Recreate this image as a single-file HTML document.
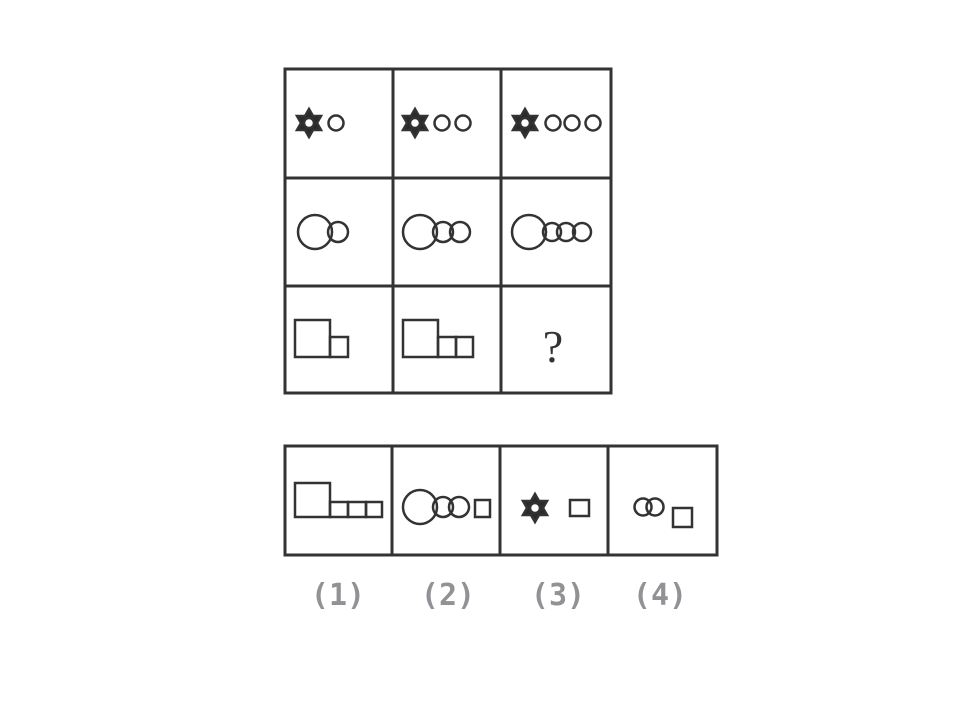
<!DOCTYPE html>
<html><head><meta charset="utf-8"><style>
html,body{margin:0;padding:0;background:#fff;}
svg{display:block;}
</style></head><body>
<svg width="960" height="720" viewBox="0 0 960 720">
<defs>
<g id="star">
<polygon points="0,-14 4,-7 12,-7 8,0 12,7 4,7 0,14 -4,7 -12,7 -8,0 -12,-7 -4,-7" fill="#2a2a2a"/>
<circle r="5" fill="#fff"/>
</g>
</defs>
<g fill="none" stroke="#333" stroke-width="3">
<rect x="285" y="69" width="326" height="324"/>
<line x1="393" y1="69" x2="393" y2="393"/><line x1="501" y1="69" x2="501" y2="393"/>
<line x1="285" y1="178" x2="611" y2="178"/><line x1="285" y1="286" x2="611" y2="286"/>
</g>
<g fill="none" stroke="#333" stroke-width="2.5">
<use href="#star" x="309" y="123"/><circle cx="336" cy="123" r="7.5"/>
<use href="#star" x="415" y="123"/><circle cx="442" cy="123" r="7.5"/><circle cx="463" cy="123" r="7.5"/>
<use href="#star" x="525" y="123"/><circle cx="553" cy="123" r="7.5"/><circle cx="572" cy="123" r="7.5"/><circle cx="593" cy="123" r="7.5"/>
</g>
<g fill="none" stroke="#333" stroke-width="2.5">
<circle cx="315" cy="232" r="17"/><circle cx="338" cy="232" r="10"/>
<circle cx="420" cy="232" r="17"/><circle cx="443" cy="232" r="10"/><circle cx="460" cy="232" r="10"/>
<circle cx="529" cy="232" r="17"/><circle cx="552" cy="232" r="9"/><circle cx="566" cy="232" r="9"/><circle cx="582" cy="232" r="9"/>
</g>
<g fill="none" stroke="#333" stroke-width="2.5">
<rect x="295" y="320" width="35" height="37"/><rect x="330" y="337" width="18" height="20"/>
<rect x="403" y="320" width="35" height="37"/><rect x="438" y="337" width="18" height="20"/><rect x="456" y="337" width="17" height="20"/>
</g>
<text x="553" y="362" font-family="Liberation Serif, serif" font-size="46" fill="#333" text-anchor="middle">?</text>
<g fill="none" stroke="#333" stroke-width="3">
<rect x="285" y="446" width="432" height="109"/>
<line x1="392" y1="446" x2="392" y2="555"/><line x1="500" y1="446" x2="500" y2="555"/><line x1="608" y1="446" x2="608" y2="555"/>
</g>
<g fill="none" stroke="#333" stroke-width="2.5">
<rect x="295" y="483" width="35" height="34"/><rect x="330" y="502" width="18" height="15"/><rect x="348" y="502" width="18" height="15"/><rect x="366" y="502" width="16" height="15"/>
</g>
<g fill="none" stroke="#333" stroke-width="2.5">
<circle cx="420" cy="507" r="17"/><circle cx="443" cy="507" r="10"/><circle cx="459" cy="507" r="10"/><rect x="475" y="500" width="15" height="17"/>
</g>
<g fill="none" stroke="#333" stroke-width="2.5">
<use href="#star" x="535" y="508"/><rect x="570" y="500" width="19" height="16"/>
</g>
<g fill="none" stroke="#333" stroke-width="2.5">
<circle cx="643" cy="507" r="8.5"/><circle cx="655" cy="507" r="8.5"/><rect x="673" y="508" width="19" height="19"/>
</g>
<g font-family="DejaVu Sans Mono, Liberation Mono, monospace" font-size="30" font-weight="bold" fill="#929296" text-anchor="middle">
<text x="338" y="605">(1)</text>
<text x="448" y="605">(2)</text>
<text x="558" y="605">(3)</text>
<text x="660" y="605">(4)</text>
</g>
</svg>
</body></html>
